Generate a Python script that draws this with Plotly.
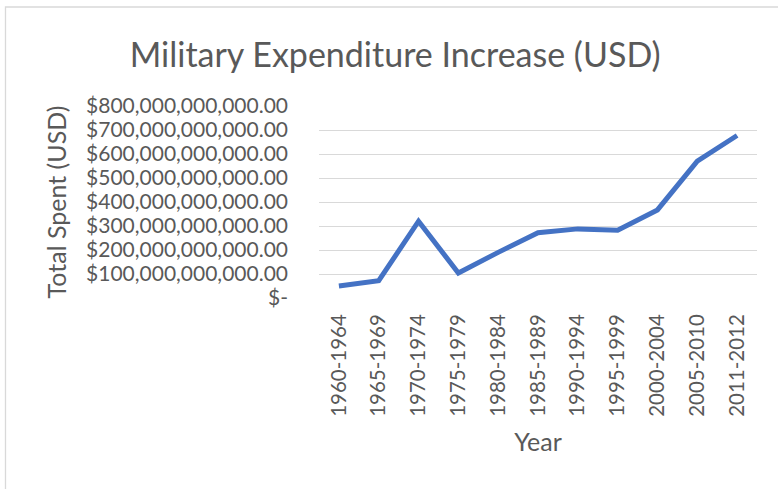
import plotly.graph_objects as go

periods = ["1960-1964", "1965-1969", "1970-1974", "1975-1979", "1980-1984",
           "1985-1989", "1990-1994", "1995-1999", "2000-2004", "2005-2010", "2011-2012"]
spent = [50e9, 72e9, 320e9, 104e9, 190e9, 272e9, 288e9, 282e9, 367e9, 570e9, 677e9]

y_ticks = [i * 100e9 for i in range(9)]
y_tick_text = ["$-"] + ["${:,.2f}".format(v) for v in y_ticks[1:]]

FONT = "Lato"
GREY = "#595959"

fig = go.Figure()
fig.add_trace(go.Scatter(
    x=periods, y=spent, mode="lines",
    line=dict(color="#4472C4", width=5, shape="linear"),
    showlegend=False, hoverinfo="x+y",
))

fig.update_layout(
    width=778, height=489,
    margin=dict(l=319, r=21, t=106, b=191),
    paper_bgcolor="white", plot_bgcolor="white",
    font=dict(family=FONT, color=GREY),
    title=dict(text="Military Expenditure Increase (USD)",
               font=dict(family=FONT, size=34, color=GREY),
               x=0.508, xanchor="center", y=0.888, yanchor="middle"),
    xaxis=dict(
        type="category", tickangle=-90,
        tickfont=dict(family=FONT, size=20.5, color=GREY),
        showgrid=False, showline=False, ticks="", ticklabelstandoff=11,
        title=dict(text="Year", font=dict(family=FONT, size=25, color=GREY), standoff=17),
        range=[-0.5, 10.5],
    ),
    yaxis=dict(
        range=[0, 800e9], tickvals=y_ticks, ticktext=y_tick_text,
        tickfont=dict(family=FONT, size=21, color=GREY),
        showgrid=True, gridcolor="#D9D9D9", gridwidth=1.3,
        zeroline=False, showline=False, ticks="", ticklabelstandoff=30,
        title=dict(text="Total Spent (USD)", font=dict(family=FONT, size=25, color=GREY), standoff=12),
    ),
    shapes=[dict(type="rect", xref="paper", yref="paper",
                 x0=-319/438 + 5.5/438, x1=1.2, y0=-1.2, y1=1 + (106 - 7) / 192,
                 line=dict(color="#D9D9D9", width=1.3), fillcolor="rgba(0,0,0,0)", layer="below")],
)

fig.write_html("out.html")
